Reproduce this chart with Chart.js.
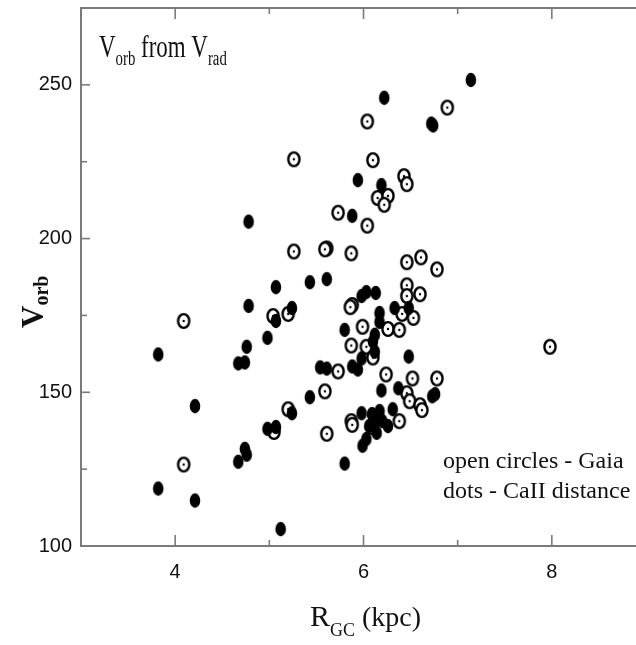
<!DOCTYPE html>
<html>
<head>
<meta charset="utf-8">
<script src="https://cdn.jsdelivr.net/npm/chart.js@4.4.1/dist/chart.umd.min.js"></script>
<style>
  html, body { margin: 0; padding: 0; background: #fff; overflow: hidden; }
  #wrap { width: 660px; height: 645px; }
</style>
</head>
<body>
<div id="wrap"><canvas id="chart" width="660" height="645"></canvas></div>
<script>
// --- data ---
// open circles - Gaia
const gaiaR = [6.89, 6.04, 6.10, 5.26, 6.15, 6.26, 6.22, 6.43, 6.46, 5.73, 6.04, 5.61, 5.59, 5.26, 5.87,
  6.46, 6.61, 6.78, 6.46, 6.46, 6.60, 5.88, 5.86, 6.41, 6.53, 5.99, 6.26, 6.38, 5.04, 5.20,
  4.09, 5.87, 6.03, 6.10, 5.73, 6.24, 6.52, 6.78, 5.59, 6.46, 6.49, 6.60, 6.62, 5.20, 5.05,
  5.87, 5.88, 6.09, 6.38, 5.61, 4.09, 7.98];
const gaiaV = [242.6, 238.1, 225.5, 225.8, 213.2, 213.9, 211.0, 220.3, 217.7, 208.4, 204.2, 196.8, 196.5, 195.8, 195.2,
  192.3, 193.9, 190.0, 184.8, 181.3, 181.9, 178.4, 177.7, 175.5, 174.2, 171.3, 170.6, 170.3, 174.8, 175.5,
  173.2, 165.2, 164.8, 161.3, 156.8, 155.8, 154.5, 154.5, 150.3, 149.7, 147.1, 145.8, 144.2, 144.5, 137.1,
  140.6, 139.4, 138.7, 140.6, 136.5, 126.5, 164.8];

// dots - CaII distance
const caR = [7.14, 6.22, 6.74, 6.72, 5.94, 6.19, 5.88, 4.78, 5.43, 5.61, 5.98, 6.03, 6.13, 5.07, 4.78,
  5.07, 5.24, 5.80, 6.33, 6.17, 6.48, 6.17, 6.12, 6.10, 6.12, 5.98, 6.48, 4.98, 4.76, 3.82,
  4.67, 4.74, 5.54, 5.61, 5.88, 5.94, 6.19, 6.37, 6.76, 6.73, 5.43, 4.21, 5.24, 4.98, 5.07,
  4.74, 4.76, 4.67, 3.82, 4.21, 5.12, 5.80, 5.98, 6.09, 6.17, 6.31, 6.20, 6.14, 6.03, 5.99,
  6.26, 6.06, 6.13];
const caV = [251.6, 245.8, 236.8, 237.4, 219.0, 217.4, 207.4, 205.5, 185.8, 186.8, 181.3, 182.6, 182.3, 184.2, 178.1,
  173.2, 177.4, 170.3, 177.4, 175.8, 177.4, 172.9, 168.7, 166.5, 163.2, 161.0, 161.6, 167.7, 164.8, 162.3,
  159.4, 159.7, 158.1, 157.7, 158.4, 157.4, 150.6, 151.3, 149.4, 148.7, 148.4, 145.5, 143.2, 138.1, 138.7,
  131.6, 129.7, 127.4, 118.7, 114.8, 105.5, 126.8, 143.2, 142.9, 143.9, 144.5, 140.6, 136.8, 134.8, 132.6,
  139.0, 139.0, 140.6];

const xLabelTicks = [4, 6, 8];
const xMinorTicks = [5, 7];
const yLabelTicks = [100, 150, 200, 250];
const yMinorTicks = [125, 175, 225];

const axisGray = '#7a7a7a';
const serif = '"Liberation Serif", "Times New Roman", serif';

// point markers (the figure is a bit squeezed sideways, so ellipses)
function makeGaiaMarker() {
  const c = document.createElement('canvas');
  c.width = 18; c.height = 20;
  const g = c.getContext('2d');
  g.fillStyle = '#fff';
  g.strokeStyle = '#000';
  g.lineWidth = 2.4;
  g.beginPath(); g.ellipse(9, 10, 5.6, 6.9, 0, 0, Math.PI * 2); g.fill(); g.stroke();
  g.fillStyle = '#000';
  g.beginPath(); g.arc(9, 10, 1.2, 0, Math.PI * 2); g.fill();
  return c;
}
function makeDotMarker() {
  const c = document.createElement('canvas');
  c.width = 14; c.height = 18;
  const g = c.getContext('2d');
  g.fillStyle = '#000';
  g.beginPath(); g.ellipse(7, 9, 5.3, 7.2, 0, 0, Math.PI * 2); g.fill();
  return c;
}

// text with subscripts
function drawRich(ctx, parts) {
  let cx = 0;
  parts.forEach(p => {
    ctx.font = (p.bold ? 'bold ' : '') + p.size + 'px ' + serif;
    ctx.fillText(p.t, cx, p.dy || 0);
    cx += ctx.measureText(p.t).width;
  });
}

const decorations = {
  id: 'decorations',
  afterDraw(chart) {
    const { ctx, chartArea: a, scales: { x, y } } = chart;
    ctx.save();
    // frame top + right
    ctx.strokeStyle = axisGray;
    ctx.lineWidth = 2;
    ctx.beginPath();
    ctx.moveTo(a.left, a.top); ctx.lineTo(a.right, a.top); ctx.lineTo(a.right, a.bottom);
    ctx.stroke();

    // inward ticks
    ctx.lineWidth = 1.6;
    const seg = (x1, y1, x2, y2) => { ctx.beginPath(); ctx.moveTo(x1, y1); ctx.lineTo(x2, y2); ctx.stroke(); };
    xLabelTicks.forEach(v => { const p = x.getPixelForValue(v); seg(p, a.bottom, p, a.bottom - 11); seg(p, a.top, p, a.top + 11); });
    xMinorTicks.forEach(v => { const p = x.getPixelForValue(v); seg(p, a.bottom, p, a.bottom - 6); seg(p, a.top, p, a.top + 6); });
    yLabelTicks.forEach(v => { const p = y.getPixelForValue(v); seg(a.left, p, a.left + 9, p); });
    yMinorTicks.forEach(v => { const p = y.getPixelForValue(v); seg(a.left, p, a.left + 6, p); });

    ctx.fillStyle = '#111';
    ctx.textBaseline = 'alphabetic';
    ctx.textAlign = 'left';

    // top-left note
    ctx.save();
    ctx.translate(99, 57);
    ctx.scale(0.74, 1);
    drawRich(ctx, [
      { t: 'V', size: 31 }, { t: 'orb', size: 20, dy: 8 },
      { t: ' from V', size: 31 }, { t: 'rad', size: 20, dy: 8 }
    ]);
    ctx.restore();

    // legend note
    ctx.font = '24px ' + serif;
    ctx.fillText('open circles - Gaia', 443, 468);
    ctx.fillText('dots - CaII distance', 443, 498);

    // x title
    ctx.save();
    ctx.translate(310, 626);
    drawRich(ctx, [
      { t: 'R', size: 30 }, { t: 'GC', size: 18, dy: 10 }, { t: ' (kpc)', size: 28 }
    ]);
    ctx.restore();

    // y title
    ctx.save();
    ctx.translate(43, 328);
    ctx.rotate(-Math.PI / 2);
    drawRich(ctx, [
      { t: 'V', size: 31, bold: true }, { t: 'orb', size: 20, bold: true, dy: 5 }
    ]);
    ctx.restore();

    ctx.restore();
  }
};

const points = (xs, ys) => xs.map((v, i) => ({ x: v, y: ys[i] }));

new Chart(document.getElementById('chart'), {
  type: 'scatter',
  data: {
    datasets: [
      {
        label: 'dots - CaII distance',
        data: points(caR, caV),
        pointStyle: makeDotMarker(),
        pointRadius: 6
      },
      {
        label: 'open circles - Gaia',
        data: points(gaiaR, gaiaV),
        pointStyle: makeGaiaMarker(),
        pointRadius: 7
      }
    ]
  },
  options: {
    responsive: false,
    animation: false,
    events: [],
    layout: { padding: { top: 4, right: 14, left: 0, bottom: 0 } },
    plugins: { legend: { display: false }, tooltip: { enabled: false } },
    scales: {
      x: {
        type: 'linear',
        min: 3, max: 9,
        afterBuildTicks: s => { s.ticks = xLabelTicks.map(v => ({ value: v })); },
        afterFit: s => { s.height = 99; s.paddingLeft = 0; s.paddingRight = 0; },
        grid: { display: false },
        border: { display: true, color: axisGray, width: 2 },
        ticks: { color: '#111', padding: 6, font: { family: '"Liberation Sans", Arial, sans-serif', size: 20 } }
      },
      y: {
        type: 'linear',
        min: 100, max: 275,
        afterBuildTicks: s => { s.ticks = yLabelTicks.map(v => ({ value: v })); },
        afterFit: s => { s.width = 81; s.paddingTop = 0; s.paddingBottom = 0; },
        grid: { display: false },
        border: { display: true, color: axisGray, width: 2 },
        ticks: { color: '#111', padding: 1, font: { family: '"Liberation Sans", Arial, sans-serif', size: 20 } }
      }
    }
  },
  plugins: [decorations]
});
</script>
</body>
</html>
